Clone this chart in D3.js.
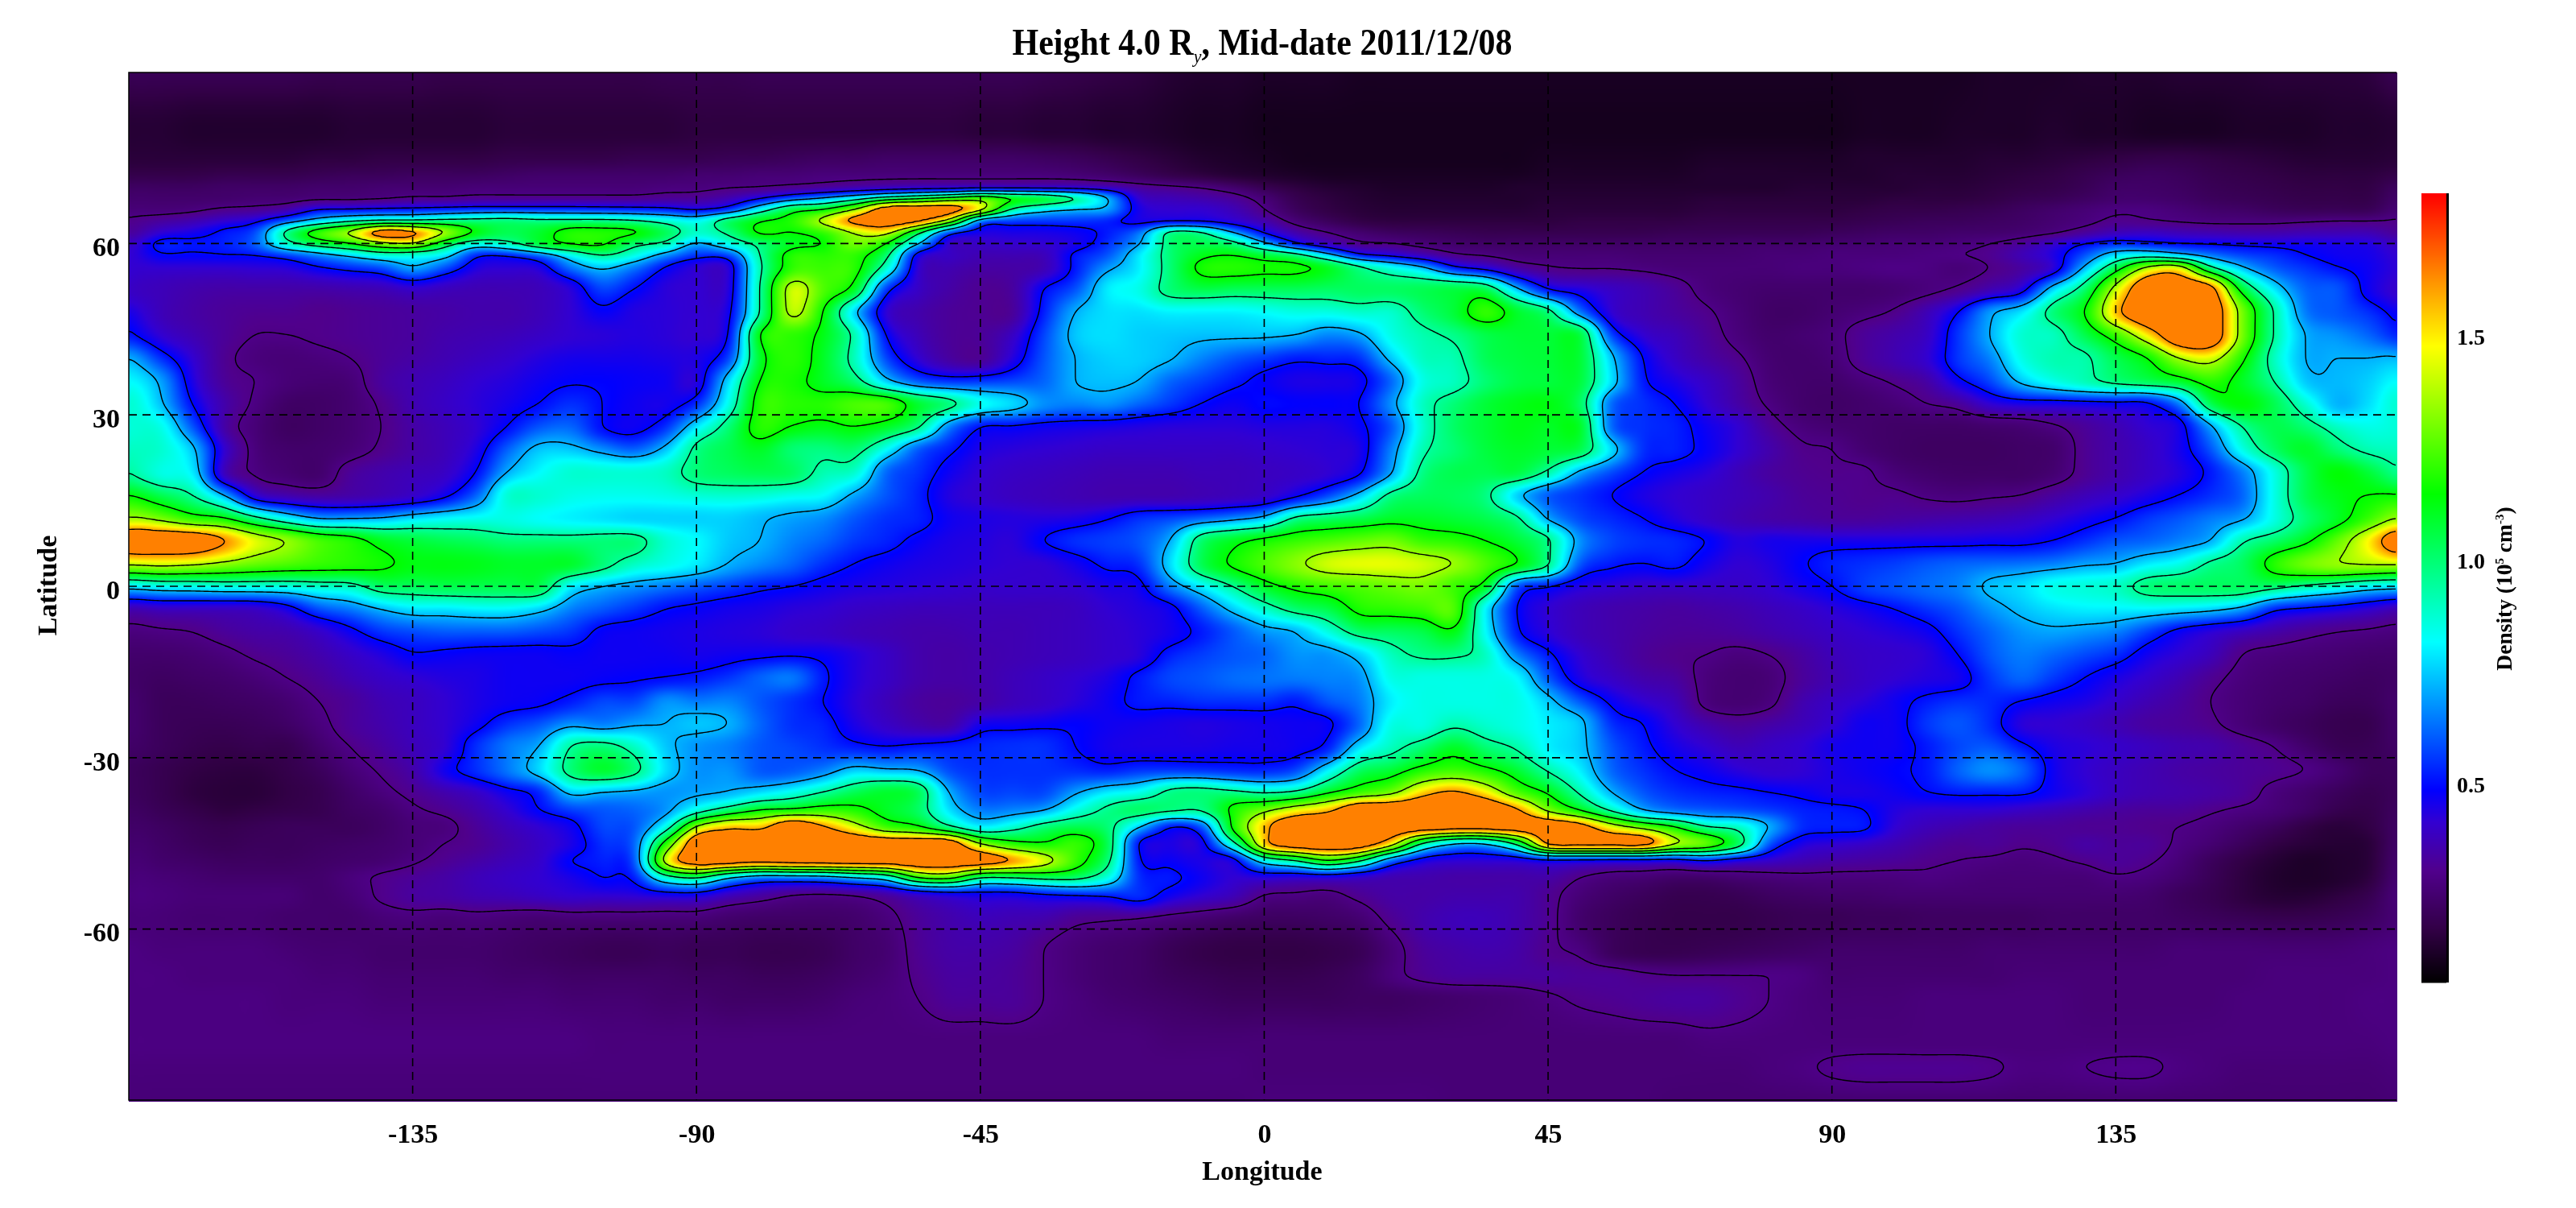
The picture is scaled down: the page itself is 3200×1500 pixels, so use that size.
<!DOCTYPE html>
<html>
<head>
<meta charset="utf-8">
<script src="https://cdn.jsdelivr.net/npm/d3@7"></script>
<style>
    body { margin: 0; background: white; }
    #mapa { position: absolute; left: 160px; top: 90px; }
    #dibujo { position: absolute; left: 0; top: 0; }
    text { font-family: "Liberation Serif", serif; font-weight: bold; fill: black; }
</style>
</head>
<body>
<canvas id="mapa"></canvas>
<svg id="dibujo" width="3200" height="1500"></svg>
<script>
// Latitudes of the rows below, north to south, and the tick labels
var lats = [90,80,75,72,70,68,66,64,62,60,58,56,52,48,44,40,36,32,28,24,20,16,12,8,4,0,-4,-8,-12,-16,-20,-24,-28,-32,-36,-39,-42,-45,-48,-51,-54,-58,-64,-68,-72,-80,-84,-90];
var lonTicks = [-135,-90,-45,0,45,90,135];
var latTicks = [60,30,0,-30,-60];
var barTicks = [0.5,1.0,1.5];
// Contour levels, density x 100
var niveles = [30,50,72,95,115,135,163];

// Density x 100, one list per latitude, longitude -180 to 180 every 5 degrees
var n90 = [21,21,21,21,21,21,20,20,20,20,19,19,19,19,19,19,19,20,20,20,21,21,21,21,21,21,21,21,21,20,19,18,17,15,14,14,13,13,13,12,12,12,12,12,12,12,12,12,12,12,12,12,12,12,12,12,12,12,12,13,13,13,14,14,14,15,15,15,16,16,16,17,18];
var n80 = [15,15,14,14,14,14,14,15,15,15,15,15,16,16,16,16,16,16,17,17,17,17,17,17,17,17,17,16,16,15,15,14,14,13,12,12,11,11,11,11,11,11,11,11,11,11,11,11,11,11,11,11,11,11,11,12,12,12,13,13,13,14,13,13,12,12,12,13,13,13,14,14,15];
var n75 = [16,16,16,16,16,16,17,17,18,18,18,18,19,19,19,19,20,20,20,21,21,22,23,23,24,24,24,24,24,23,22,20,18,16,14,13,12,11,11,11,11,11,11,11,11,12,12,12,12,12,13,13,13,13,13,14,14,14,14,15,15,16,17,18,19,19,18,17,16,15,15,15,16];
var n72 = [19,19,19,20,20,20,21,22,22,23,23,23,24,25,25,25,25,25,26,26,27,27,28,28,28,28,28,28,28,28,27,25,22,19,17,15,14,13,12,12,12,12,12,12,12,13,13,13,13,13,14,14,14,14,14,14,15,15,15,16,17,18,20,22,23,22,20,19,18,17,17,17,18];
var n70 = [23,23,23,24,24,24,25,25,26,26,26,27,27,27,27,27,27,28,28,29,29,30,31,33,35,36,36,36,36,36,37,36,33,31,29,25,20,17,15,14,13,13,13,13,14,14,14,14,14,14,14,14,14,15,15,15,15,16,16,17,18,19,21,24,24,23,21,20,19,18,18,18,19];
var n68 = [25,25,25,25,26,26,27,27,28,30,30,31,31,31,31,31,31,32,33,37,47,60,72,85,100,110,120,130,120,115,100,75,42,38,36,33,27,20,17,15,14,14,14,14,14,15,15,15,15,15,16,16,16,16,16,16,17,17,17,18,20,21,23,25,25,24,22,21,20,19,19,19,20];
var n66 = [27,27,28,31,32,36,49,50,52,53,55,57,57,57,57,56,55,53,47,55,85,110,115,135,165,165,165,145,95,78,72,70,46,42,42,38,30,22,18,16,15,15,15,15,15,16,16,16,16,16,17,17,17,17,17,18,19,19,20,21,23,25,27,29,29,27,25,24,22,21,21,21,22];
var n64 = [31,34,37,42,47,62,78,90,95,96,100,102,103,100,100,100,97,90,85,105,115,120,140,160,165,160,130,60,55,55,55,52,45,45,45,42,36,27,22,18,17,17,17,17,17,17,18,18,18,18,19,19,19,19,19,20,21,22,22,23,24,26,28,31,30,29,28,28,28,29,30,30,30];
var n62 = [33,42,46,52,60,100,125,140,165,160,138,115,105,110,120,120,118,105,90,98,118,115,120,135,140,100,55,45,45,45,47,52,65,100,98,72,48,36,30,26,23,22,21,20,20,20,20,20,20,21,21,21,21,21,22,23,24,24,25,25,26,28,33,38,40,38,37,36,36,37,37,37,37];
var n60 = [40,53,52,53,62,90,105,115,130,135,105,85,92,110,118,118,100,92,70,85,98,110,115,130,115,75,40,40,41,42,45,55,70,100,105,100,75,50,38,31,30,27,25,24,24,24,24,24,24,24,24,25,25,25,26,26,27,27,28,30,34,42,50,55,52,50,49,48,47,47,46,45,42];
var n58 = [42,49,49,50,50,55,65,75,85,83,78,52,50,60,80,95,85,67,55,57,95,120,120,120,100,45,40,37,37,38,52,60,80,100,112,115,110,102,78,52,45,38,31,29,27,27,27,27,26,26,26,26,27,27,28,28,28,29,30,32,38,45,60,80,85,75,65,58,55,50,47,46,44];
var n56 = [42,42,42,42,43,44,50,55,60,72,60,45,43,45,65,75,65,50,42,43,92,120,122,120,90,42,37,35,35,37,52,68,80,100,118,120,118,118,112,98,85,72,50,42,33,30,29,29,28,27,27,27,27,28,28,29,30,29,27,30,34,42,72,105,135,140,95,72,60,55,50,47,44];
var n52 = [40,38,36,35,35,35,35,36,37,40,38,37,37,38,43,57,50,43,42,44,95,140,125,110,55,40,35,32,34,50,60,80,85,100,105,103,103,103,102,103,103,105,108,106,75,50,45,40,37,33,28,26,25,25,25,25,26,28,31,37,45,78,102,140,165,165,160,110,80,62,60,47,42];
var n48 = [46,38,35,33,32,32,31,32,33,34,35,36,36,38,42,48,44,43,42,47,95,138,115,75,42,36,33,32,33,53,72,78,78,80,80,80,82,85,85,88,88,100,108,122,110,100,65,42,37,34,31,27,24,24,26,28,31,38,50,70,80,100,115,150,165,165,165,130,95,65,60,55,46];
var n44 = [52,42,37,33,30,30,31,32,33,34,36,37,38,40,42,43,44,43,42,50,115,120,112,92,50,38,33,33,40,58,75,78,76,75,74,74,74,72,66,70,85,92,97,105,108,108,108,58,42,38,33,28,25,26,28,33,36,40,56,72,88,90,105,122,145,165,165,130,95,72,68,62,52];
var n40 = [72,55,42,32,28,27,28,30,33,35,37,39,41,44,46,46,46,45,45,58,110,120,110,90,58,42,34,32,44,60,72,76,76,73,66,60,56,52,53,55,75,90,92,104,107,108,108,75,50,40,35,31,26,25,27,33,37,42,56,66,85,92,93,105,115,135,140,118,90,72,72,72,72];
var n36 = [82,70,45,33,30,27,26,27,34,37,39,42,44,47,49,49,48,47,44,78,115,118,110,100,75,60,55,56,58,62,72,74,72,62,57,52,48,45,45,47,62,85,90,100,106,107,107,78,52,45,40,34,27,25,25,28,31,35,48,58,75,85,92,100,105,110,120,110,95,75,73,76,82];
var n32 = [88,74,50,36,29,24,24,26,31,37,40,43,46,50,55,50,47,46,55,85,120,120,120,125,125,110,100,85,78,68,66,68,62,56,50,47,50,49,49,50,68,90,100,108,112,113,102,62,55,50,42,35,29,25,24,25,27,30,33,42,45,45,46,47,48,65,105,115,105,88,72,78,88];
var n28 = [87,85,60,35,27,23,24,26,30,35,38,42,50,60,62,50,47,55,80,100,120,115,112,115,110,98,65,50,49,47,46,45,44,43,43,43,44,44,44,48,60,88,102,108,112,110,110,62,55,53,47,42,33,28,26,25,24,24,24,25,26,29,33,37,42,46,70,95,105,100,90,85,87];
var n24 = [90,88,75,42,28,25,25,27,31,35,38,45,62,75,75,68,62,75,98,105,110,100,98,100,82,60,52,45,43,42,41,40,40,40,40,40,41,42,43,45,66,92,100,107,110,108,105,78,55,53,48,42,36,31,30,26,24,23,23,23,24,25,32,36,40,46,60,85,102,110,100,92,90];
var n20 = [95,85,80,38,29,26,25,33,36,38,40,50,72,82,88,88,88,90,100,103,105,103,92,88,62,55,47,42,40,39,38,37,37,37,38,38,39,40,42,48,70,98,105,105,107,93,70,58,50,46,43,38,34,32,31,31,27,25,24,24,24,26,32,36,40,44,52,65,85,105,115,108,98];
var n16 = [115,105,95,72,42,36,34,35,37,40,47,62,88,88,85,84,84,85,87,88,87,84,82,70,60,53,44,41,39,38,37,36,36,36,37,38,40,47,58,75,98,103,103,98,75,60,55,50,45,42,40,38,36,33,32,31,31,29,28,29,30,34,38,41,45,50,55,62,85,105,112,115,115];
var n12 = [135,130,120,115,98,82,70,70,72,78,82,84,85,82,80,78,76,76,76,76,73,70,67,60,55,53,47,45,44,44,45,49,55,58,62,67,75,97,102,105,110,110,108,105,97,70,58,54,50,44,40,37,35,34,33,33,34,35,36,37,39,42,46,50,56,60,65,70,85,100,110,122,135];
var n8 = [165,165,165,155,142,135,125,120,112,108,105,103,100,100,100,100,100,88,82,75,72,66,62,56,53,48,45,44,43,50,55,57,60,72,102,112,118,122,125,128,130,122,120,115,108,97,68,58,55,54,50,44,46,46,46,46,46,46,46,47,47,50,55,60,62,66,72,93,102,112,128,145,165];
var n4 = [138,140,138,133,128,125,122,120,117,113,113,112,110,110,110,100,90,85,80,72,67,62,55,50,47,45,44,43,42,42,46,52,55,78,105,117,125,133,140,142,142,140,135,125,116,97,60,52,50,52,46,42,44,49,53,55,57,60,62,63,64,66,70,72,80,85,97,103,120,130,135,137,138];
var eq0 = [78,82,83,85,85,85,88,90,102,103,105,105,105,105,80,72,68,64,60,56,52,50,47,45,44,43,42,41,41,41,42,45,47,65,80,95,110,118,122,125,128,130,122,110,58,50,44,42,40,40,40,40,42,46,50,57,60,63,66,74,78,85,87,90,100,102,103,103,100,93,87,80,78];
var s4 = [36,38,38,38,39,45,58,64,72,78,78,80,80,75,65,60,55,50,48,46,45,43,42,40,39,38,38,38,38,38,39,42,44,47,60,75,88,100,105,118,120,122,125,80,50,42,38,36,35,34,35,36,38,40,43,46,50,55,60,68,74,78,80,80,80,78,75,68,52,48,45,41,38];
var s8 = [28,29,30,33,35,36,40,47,55,58,60,60,60,58,55,48,47,46,45,44,43,41,40,38,37,36,36,37,37,38,39,41,43,46,52,60,68,72,85,100,102,105,112,82,52,43,38,36,34,33,33,34,36,38,40,42,44,47,55,62,68,70,68,65,56,47,42,38,35,32,30,29,28];
var s12 = [25,25,26,28,31,33,36,40,44,49,48,47,47,47,48,47,47,47,46,47,48,49,48,44,40,36,35,36,37,38,39,41,43,53,57,60,62,68,68,75,90,97,97,90,66,52,42,37,33,31,30,28,30,34,38,40,41,43,50,60,65,62,58,54,46,42,38,30,28,27,26,25,25];
var s16 = [24,23,24,25,27,30,33,37,40,42,44,45,47,47,47,48,49,50,52,56,62,65,52,44,40,36,35,36,38,40,42,45,52,58,60,63,64,65,66,68,85,85,85,85,82,60,45,40,36,34,28,26,27,33,37,40,42,44,46,56,62,56,50,45,41,37,32,28,26,25,24,23,23];
var s20 = [25,22,22,23,24,26,30,33,37,39,42,45,47,48,52,58,58,68,65,66,60,55,50,43,38,34,33,35,38,40,43,47,52,53,55,55,55,52,60,65,80,85,85,85,85,75,60,48,42,38,28,26,28,36,40,43,47,52,55,54,50,47,45,41,37,34,30,27,25,24,22,22,24];
var s24 = [25,22,21,21,22,24,28,33,36,39,42,47,55,60,68,65,70,72,75,72,62,55,53,45,40,36,35,46,47,48,49,47,46,45,44,45,46,47,48,62,85,85,92,88,85,80,75,55,50,42,36,33,35,38,42,47,47,56,60,54,43,42,40,37,34,33,31,27,24,22,20,20,23];
var s28 = [24,22,20,19,20,20,25,30,34,38,42,55,65,72,95,100,90,75,68,65,60,58,55,52,50,52,53,54,55,55,50,46,45,45,45,46,46,47,52,78,90,100,110,100,93,80,75,60,52,46,42,38,40,42,46,47,47,52,58,60,52,45,43,41,39,37,36,33,30,25,21,21,23];
var s32 = [22,20,18,17,17,19,22,27,31,36,47,55,65,78,100,110,100,78,68,68,60,60,65,75,72,70,58,55,55,55,54,52,55,55,54,53,53,58,80,102,108,118,122,117,108,93,80,62,55,50,47,43,41,42,45,47,49,52,62,68,62,47,42,39,37,35,34,33,32,30,26,22,22];
var s36 = [22,20,17,16,16,18,20,24,28,32,36,40,47,53,75,72,70,68,70,72,78,85,95,105,110,105,72,58,58,58,70,80,85,98,100,98,93,97,112,122,130,148,155,145,125,113,93,72,60,55,53,52,50,48,45,45,47,50,52,52,52,47,43,39,37,36,35,33,28,25,22,20,21];
var s39 = [23,21,19,17,18,19,20,23,25,29,32,36,42,50,57,60,62,68,85,100,113,115,120,118,110,102,78,65,66,70,85,97,103,100,98,118,130,142,150,165,165,165,165,165,155,130,112,90,70,62,60,58,56,53,52,50,44,42,42,42,40,38,36,34,33,33,31,29,27,24,20,19,20];
var s42 = [24,23,21,20,21,22,22,22,24,27,28,33,38,42,47,58,60,85,135,150,150,165,155,140,122,115,95,80,88,100,105,100,75,50,60,118,150,165,165,165,165,165,165,165,165,165,160,142,128,115,95,90,72,55,53,52,42,38,36,34,33,33,32,32,31,30,28,25,22,18,16,18,20];
var s45 = [25,24,22,21,22,22,23,24,25,27,30,32,36,40,45,55,62,120,165,165,165,165,165,165,165,165,165,135,120,116,122,105,50,45,46,90,150,165,165,165,145,95,72,72,100,160,165,165,165,140,130,105,60,45,42,40,37,34,32,33,31,32,35,33,33,29,26,22,18,16,15,16,21];
var s48 = [26,25,24,23,23,23,24,25,26,29,32,35,38,41,50,53,60,140,165,165,162,165,165,165,165,165,165,165,155,142,122,100,52,48,45,45,80,95,115,98,60,45,42,42,42,44,43,42,42,42,48,42,40,37,35,34,33,31,30,29,28,29,31,33,31,27,22,18,15,13,14,16,22];
var s51 = [27,27,26,25,25,25,25,28,31,33,35,38,40,42,45,50,52,85,95,72,60,60,62,70,80,115,120,95,95,100,100,85,55,52,47,42,42,40,40,38,36,36,35,35,35,35,30,27,26,24,24,26,27,28,28,28,28,29,28,27,27,27,27,29,28,25,21,17,14,13,14,17,23];
var s54 = [28,28,27,27,27,27,25,27,31,34,35,37,38,40,42,42,43,45,45,38,34,30,29,30,33,38,42,45,45,48,50,52,55,47,42,38,30,29,28,32,35,35,36,36,36,32,27,24,22,20,20,21,23,24,25,25,26,26,26,26,26,26,26,26,25,22,20,17,15,15,17,20,24];
var s58 = [27,27,26,26,26,25,25,25,27,28,27,28,27,26,27,27,27,27,27,25,24,24,24,25,28,33,36,38,37,36,32,31,30,28,26,24,23,23,24,26,32,36,38,38,36,32,25,22,20,19,19,19,20,21,21,22,22,23,23,23,23,24,24,24,24,23,22,21,20,20,21,23,26];
var s64 = [29,28,28,28,28,27,26,26,25,25,25,25,24,23,22,21,21,22,21,21,20,20,21,24,26,32,35,35,34,30,27,25,24,21,19,18,18,18,19,21,27,33,35,36,35,31,29,22,20,20,21,22,23,24,25,25,25,25,25,26,26,26,26,26,26,27,27,27,27,27,27,28,28];
var s68 = [29,29,28,28,28,28,27,27,26,26,26,26,25,25,24,24,24,24,23,23,22,22,23,25,27,31,34,34,33,30,27,25,24,22,21,20,20,20,21,23,28,32,34,34,34,34,33,33,31,30,30,30,30,29,26,26,26,26,26,26,27,27,27,27,27,27,27,27,28,28,28,28,28];
var s72 = [29,29,29,29,29,28,28,28,27,27,27,27,27,27,26,26,26,25,25,24,24,24,25,27,28,30,33,33,33,30,28,26,25,24,23,22,22,22,22,23,23,24,25,26,27,29,31,32,33,34,34,32,30,28,27,27,27,28,28,28,28,28,27,27,27,27,27,28,28,28,28,29,29];
var s80 = [29,29,29,29,29,29,29,29,29,29,29,29,29,29,29,28,28,28,28,28,28,28,28,28,28,28,28,28,28,28,28,28,28,27,27,27,27,27,27,27,27,27,27,27,27,27,27,27,27,27,28,28,28,28,28,28,28,28,28,28,28,28,28,28,28,28,28,28,28,28,28,28,28];
var s84 = [28,28,28,28,28,28,28,28,28,28,28,28,28,28,28,28,28,28,28,28,28,28,28,28,28,28,28,28,28,28,28,28,28,28,28,28,27,27,27,27,27,27,27,27,27,27,27,27,27,27,27,27,28,29,31,32,32,32,32,31,29,29,30,31,31,29,28,27,27,27,27,27,27];
var s90 = [27,27,27,27,27,27,27,27,27,27,27,27,27,27,27,27,27,27,27,27,27,27,27,27,27,27,27,27,27,27,27,27,27,27,27,27,28,28,28,28,28,28,27,27,27,27,27,27,27,26,26,26,26,26,26,26,26,26,26,26,26,26,26,26,26,26,26,26,26,26,26,26,26];

var filas = [n90,n80,n75,n72,n70,n68,n66,n64,n62,n60,n58,n56,n52,n48,n44,n40,n36,n32,n28,n24,n20,n16,n12,n8,n4,eq0,s4,s8,s12,s16,s20,s24,s28,s32,s36,s39,s42,s45,s48,s51,s54,s58,s64,s68,s72,s80,s84,s90];
filas.forEach(function (f, i) { if (f.length != 73) console.error("fila", lats[i], f.length); });

// Scales of the map, in page pixels
var escalaX = d3.scaleLinear().domain([-180, 179.5]).range([160, 2977]);
var escalaY = d3.scaleLinear().domain([90, -90]).range([89.5, 1366.5]);

// Colour scale, density in the units of the rows
var escalaColor = d3.scaleLinear()
    .domain([6, 12, 18, 31, 42, 49, 82, 115, 148, 182])
    .range(["#000000", "#190023", "#320046", "#50008c", "#3200d2", "#0000ff", "#00ffff", "#00ff00", "#ffff00", "#ff0000"])
    .clamp(true);

// Fine grid for the picture: every 2 page pixels
var paso = 2;
var nx = Math.floor((2977 - 160) / paso) + 1;
var ny = Math.floor((1366 - 90) / paso) + 1;

// Monotone slopes along latitude, for each column
function pendientes(xs, ys) {
    var n = xs.length, d = [], m = [];
    for (var i = 0; i < n - 1; i++) d.push((ys[i + 1] - ys[i]) / (xs[i + 1] - xs[i]));
    m[0] = d[0];
    m[n - 1] = d[n - 2];
    for (var i = 1; i < n - 1; i++) {
        if (d[i - 1] * d[i] <= 0) m[i] = 0;
        else {
            var h0 = xs[i] - xs[i - 1], h1 = xs[i + 1] - xs[i];
            m[i] = (h0 + h1) * 3 / ((2 * h1 + h0) / d[i - 1] + (h1 + 2 * h0) / d[i]);
        }
    }
    return m;
}

var latsAsc = lats.slice().reverse();
var columnas = d3.range(72).map(function (i) {
    var ys = filas.map(function (f) { return f[i]; }).reverse();
    return { ys: ys, m: pendientes(latsAsc, ys) };
});

var campo = new Float64Array(nx * ny);
var tmp = new Float64Array(72);
for (var j = 0; j < ny; j++) {
    var lat = escalaY.invert(90 + j * paso);
    lat = Math.max(-90, Math.min(90, lat));
    var k = Math.min(d3.bisectRight(latsAsc, lat) - 1, latsAsc.length - 2);
    var h = latsAsc[k + 1] - latsAsc[k], t = (lat - latsAsc[k]) / h;
    var h00 = (1 + 2 * t) * (1 - t) * (1 - t), h10 = t * (1 - t) * (1 - t), h01 = t * t * (3 - 2 * t), h11 = t * t * (t - 1);
    columnas.forEach(function (c, i) {
        tmp[i] = h00 * c.ys[k] + h10 * h * c.m[k] + h01 * c.ys[k + 1] + h11 * h * c.m[k + 1];
    });
    for (var i = 0; i < nx; i++) {
        var u = (escalaX.invert(160 + i * paso) + 180) / 5;
        var a = Math.floor(u), s = u - a;
        var p0 = tmp[(a + 71) % 72], p1 = tmp[a % 72], p2 = tmp[(a + 1) % 72], p3 = tmp[(a + 2) % 72];
        var v = 0.5 * (2 * p1 + (p2 - p0) * s + (2 * p0 - 5 * p1 + 4 * p2 - p3) * s * s + (3 * p1 - p0 - 3 * p2 + p3) * s * s * s);
        campo[i + j * nx] = Math.max(Math.min(p1, p2) - 3, Math.min(Math.max(p1, p2) + 3, v));
    }
}

// Light box blur so the list rows do not show
function suavizar(datos, radio) {
    var copia = new Float64Array(datos.length);
    for (var j = 0; j < ny; j++) for (var i = 0; i < nx; i++) {
        var suma = 0, n = 0;
        for (var q = -radio; q <= radio; q++) {
            var ii = i + q;
            if (ii >= 0 && ii < nx) { suma += datos[ii + j * nx]; n++; }
        }
        copia[i + j * nx] = suma / n;
    }
    for (var j = 0; j < ny; j++) for (var i = 0; i < nx; i++) {
        var suma = 0, n = 0;
        for (var q = -radio; q <= radio; q++) {
            var jj = j + q;
            if (jj >= 0 && jj < ny) { suma += copia[i + jj * nx]; n++; }
        }
        datos[i + j * nx] = suma / n;
    }
}
suavizar(campo, 2);
suavizar(campo, 2);
// The map saturates at 1.65: the blur lowers the plateaus, so stretch the top of the range back
for (var i = 0; i < campo.length; i++) {
    var w = campo[i];
    if (w > 135) w = 135 + (w - 135) * 1.5;
    campo[i] = Math.min(w, 165);
}

// Paint the map on the canvas, with a colour table for speed
var tabla = d3.range(0, 2001).map(function (i) { return d3.rgb(escalaColor(i / 10)); });
var lienzo = document.getElementById("mapa");
lienzo.width = nx;
lienzo.height = ny;
lienzo.style.width = (nx * paso) + "px";
lienzo.style.height = (ny * paso) + "px";
var ctx = lienzo.getContext("2d");
var imagen = ctx.createImageData(nx, ny);
for (var i = 0; i < campo.length; i++) {
    var c = tabla[Math.round(Math.max(0, campo[i]) * 10)];
    imagen.data[i * 4] = c.r;
    imagen.data[i * 4 + 1] = c.g;
    imagen.data[i * 4 + 2] = c.b;
    imagen.data[i * 4 + 3] = 255;
}
ctx.putImageData(imagen, 0, 0);

var dibujoSVG = d3.select("#dibujo");

// Contours from the same field
var gridX = d3.scaleLinear().domain([0.5, nx - 0.5]).range([160, 160 + (nx - 1) * paso]);
var gridY = d3.scaleLinear().domain([0.5, ny - 0.5]).range([90, 90 + (ny - 1) * paso]);
var linea = d3.line()
    .defined(function (p) { return p[0] > 0 && p[0] < nx && p[1] > 0 && p[1] < ny; })
    .x(function (p) { return gridX(p[0]); })
    .y(function (p) { return gridY(p[1]); });
var contornos = d3.contours().size([nx, ny]).thresholds(niveles)(Array.from(campo));
contornos.forEach(function (capa) {
    var d = "";
    capa.coordinates.forEach(function (poligono) {
        poligono.forEach(function (anillo) { d += linea(anillo); });
    });
    dibujoSVG.append("path")
        .attr("d", d)
        .attr("fill", "none")
        .attr("stroke", "black")
        .attr("stroke-width", 1.4);
});

// Dashed grid
dibujoSVG.selectAll(".vertical").data(lonTicks).join("line")
    .attr("class", "vertical")
    .attr("x1", function (d) { return escalaX(d); })
    .attr("x2", function (d) { return escalaX(d); })
    .attr("y1", 90).attr("y2", 1366)
    .attr("stroke", "black").attr("stroke-width", 1.6).attr("stroke-dasharray", "10 7");
dibujoSVG.selectAll(".horizontal").data(latTicks).join("line")
    .attr("class", "horizontal")
    .attr("x1", 160).attr("x2", 2977)
    .attr("y1", function (d) { return escalaY(d); })
    .attr("y2", function (d) { return escalaY(d); })
    .attr("stroke", "black").attr("stroke-width", 1.6).attr("stroke-dasharray", "10 7");

// Frame: left, top and bottom
dibujoSVG.append("path")
    .attr("d", "M2977,90H160V1366H2977")
    .attr("fill", "none").attr("stroke", "black").attr("stroke-width", 1.5);

// Axes
var ejeX = d3.axisBottom(escalaX).tickValues(lonTicks).tickSize(0).tickPadding(29).tickFormat(String);
var gX = dibujoSVG.append("g").attr("transform", "translate(0,1366)").call(ejeX);
gX.select(".domain").remove();
gX.selectAll("text").style("font-size", "34px").style("font-family", "Liberation Serif").style("font-weight", "bold");

var ejeY = d3.axisLeft(escalaY).tickValues(latTicks).tickSize(0).tickPadding(11).tickFormat(String);
var gY = dibujoSVG.append("g").attr("transform", "translate(160,0)").call(ejeY);
gY.select(".domain").remove();
gY.selectAll("text").attr("dy", "0.45em").style("font-size", "34px").style("font-family", "Liberation Serif").style("font-weight", "bold");

// Title and axis names
var titulo = dibujoSVG.append("text").attr("transform", "translate(1568,68) scale(0.913,1)").attr("text-anchor", "middle").style("font-size", "46px");
titulo.append("tspan").text("Height 4.0 R");
titulo.append("tspan").attr("dy", 10).style("font-size", "24px").style("font-style", "italic").style("font-weight", "normal").text("y");
titulo.append("tspan").attr("dy", -10).text(", Mid-date 2011/12/08");

dibujoSVG.append("text").attr("x", 1568).attr("y", 1465).attr("text-anchor", "middle").style("font-size", "34px").text("Longitude");
dibujoSVG.append("text").attr("transform", "translate(70,727) rotate(-90)").attr("text-anchor", "middle").style("font-size", "34px").text("Latitude");

// Colour bar
var escalaBarra = d3.scaleLinear().domain([0.06, 1.82]).range([1220, 240]);
dibujoSVG.selectAll(".banda").data(d3.range(240, 1220)).join("rect")
    .attr("class", "banda")
    .attr("x", 3008).attr("width", 31)
    .attr("y", function (d) { return d; })
    .attr("height", 1.5)
    .attr("fill", function (d) { return escalaColor(escalaBarra.invert(d) * 100); });
dibujoSVG.append("rect").attr("x", 3039).attr("y", 240).attr("width", 3).attr("height", 980).attr("fill", "black");

var ejeBarra = d3.axisRight(escalaBarra).tickValues(barTicks).tickSize(0).tickPadding(11).tickFormat(d3.format(".1f"));
var gBarra = dibujoSVG.append("g").attr("transform", "translate(3041,0)").call(ejeBarra);
gBarra.select(".domain").remove();
gBarra.selectAll("text").style("font-size", "28px").style("font-family", "Liberation Serif").style("font-weight", "bold");

var etiqueta = dibujoSVG.append("text").attr("transform", "translate(3120,731) rotate(-90)").attr("text-anchor", "middle").style("font-size", "27.5px");
etiqueta.append("tspan").text("Density (10");
etiqueta.append("tspan").attr("dy", -10).style("font-size", "15px").text("5");
etiqueta.append("tspan").attr("dy", 10).text(" cm");
etiqueta.append("tspan").attr("dy", -10).style("font-size", "15px").text("-3");
etiqueta.append("tspan").attr("dy", 10).text(")");
</script>
</body>
</html>
